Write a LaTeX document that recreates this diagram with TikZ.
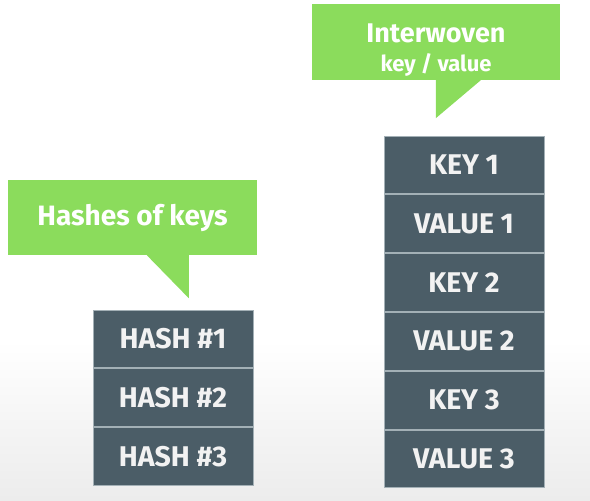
\documentclass[tikz,border=0pt]{standalone}
\usepackage{fontspec}
\setmainfont{Fira Sans}
\usetikzlibrary{positioning}

\definecolor{slate}{HTML}{4B5D67}
\definecolor{slateline}{HTML}{A3B0B6}
\definecolor{bubble}{HTML}{8BDC5C}

\begin{document}
\begin{tikzpicture}[
  x=1pt, y=-1pt,
  cell/.style={draw=slateline, line width=1pt, fill=slate, text=white!95!black,
    minimum width=160pt, minimum height=57.8pt, inner sep=0pt,
    font=\bfseries\fontsize{28.5}{30}\selectfont},
  callout/.style={fill=bubble, text=white, inner sep=0pt, align=center,
    font=\bfseries\fontsize{28}{30}\selectfont}
]
  \useasboundingbox (0,0) rectangle (590,501);
  \shade[top color=white, bottom color=gray!15] (0,340) rectangle (590,501);

  % interleaved keys and values
  \node[cell] (k1) at (464,164.9) {KEY 1};
  \node[cell, below=0pt of k1] (v1) {VALUE 1};
  \node[cell, below=0pt of v1] (k2) {KEY 2};
  \node[cell, below=0pt of k2] (v2) {VALUE 2};
  \node[cell, below=0pt of v2] (k3) {KEY 3};
  \node[cell, below=0pt of k3] (v3) {VALUE 3};

  % hashes
  \node[cell] (h1) at (173,338.9) {HASH \#1};
  \node[cell, below=0pt of h1] (h2) {HASH \#2};
  \node[cell, below=0pt of h2] (h3) {HASH \#3};

  % speech bubbles
  \node[callout, minimum width=248pt, minimum height=76pt] (iw) at (436,42) {};
  \node[callout, fill=none] (iwtext) at (436,50.5)
    {{\fontsize{27}{29}\selectfont Interwoven}\\[-1pt]{\fontsize{22}{24}\selectfont key / value}};
  \fill[bubble] ([xshift=124pt]iw.south west) -- ++(0,38) -- ([xshift=169pt]iw.south west) -- cycle;

  \node[callout, minimum width=249pt, minimum height=75pt] (hk) at (132.5,217.5) {Hashes of keys};
  \fill[bubble] ([xshift=139pt]hk.south west) -- ([xshift=181pt,yshift=-43pt]hk.south west) -- ([xshift=181pt]hk.south west) -- cycle;
\end{tikzpicture}
\end{document}
